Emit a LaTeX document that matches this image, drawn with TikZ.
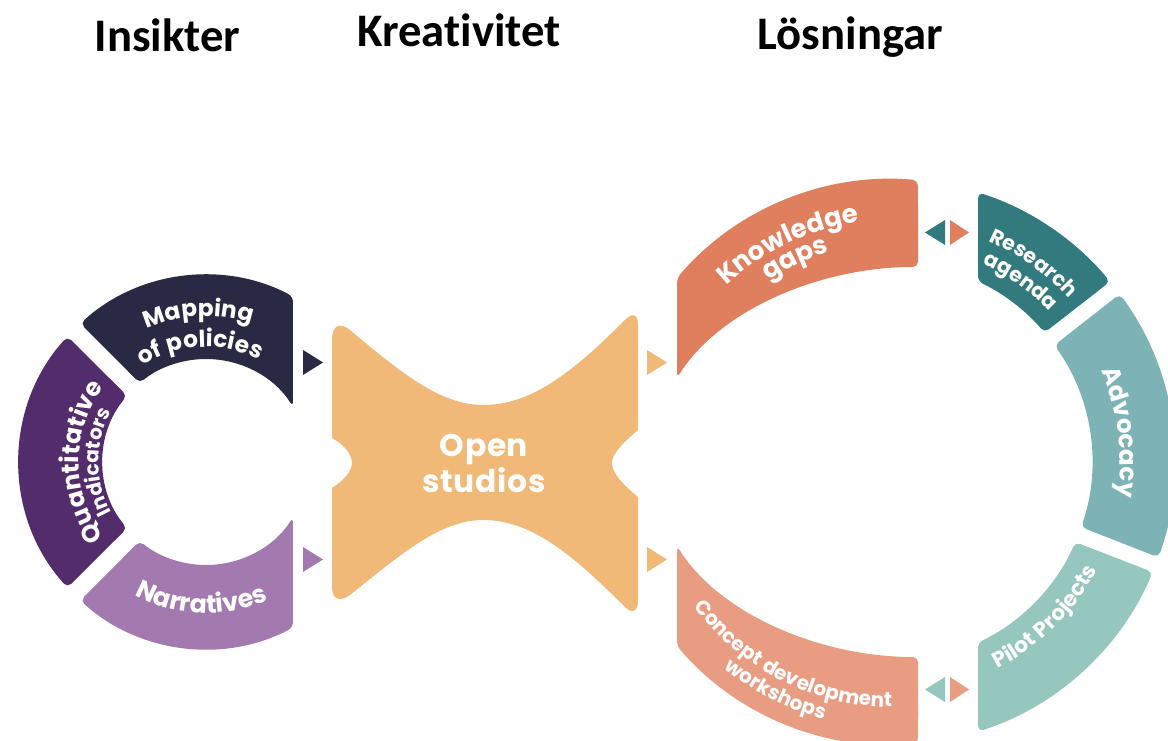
\documentclass[tikz,border=0pt]{standalone}
\usepackage{fontspec}
\setmainfont{Carlito}[Ligatures=NoCommon]
\newfontfamily\lab{Poppins}[LetterSpace=4]
\newfontfamily\labos{Poppins}[LetterSpace=2]
\usetikzlibrary{decorations.text}
\definecolor{navy}{HTML}{2A2944}
\definecolor{dpurple}{HTML}{532C6C}
\definecolor{lpurple}{HTML}{A37AAF}
\definecolor{osorange}{HTML}{F0B977}
\definecolor{kgcol}{HTML}{E07F5D}
\definecolor{cdcol}{HTML}{E89C82}
\definecolor{racol}{HTML}{337A7F}
\definecolor{advcol}{HTML}{7DB3B5}
\definecolor{pilcol}{HTML}{96C7BE}
\newcommand\fMap{\lab\bfseries\fontsize{17.5}{17.5}\selectfont}
\newcommand\fQua{\lab\bfseries\fontsize{18.5}{18.5}\selectfont}
\newcommand\fInd{\lab\bfseries\fontsize{15}{15}\selectfont}
\newcommand\fNar{\lab\bfseries\fontsize{19}{19}\selectfont}
\newcommand\fKg{\lab\bfseries\fontsize{19.5}{19.5}\selectfont}
\newcommand\fRa{\lab\bfseries\fontsize{15.5}{15.5}\selectfont}
\newcommand\fAdv{\lab\bfseries\fontsize{18.5}{18.5}\selectfont}
\newcommand\fPil{\lab\bfseries\fontsize{16}{16}\selectfont}
\newcommand\fCd{\lab\bfseries\fontsize{15}{15}\selectfont}
\begin{document}
\begin{tikzpicture}[x=0.75pt,y=0.75pt,
  seg/.style={rounded corners=4pt},
  ctext/.style={decorate,decoration={text along path,text={#1},text align=center,text color=white}},
  title/.style={font=\bfseries\fontsize{35}{35}\selectfont,anchor=base,inner sep=0pt}]
\clip (0,0) rectangle (1168,741);
\fill[white] (0,0) rectangle (1168,741);
\coordinate (L) at (206,279);
\coordinate (R) at (892,279);

% titles
\node[title] (t1) at (167.5,689) {Insikter};
\node[title] (t2) at (459,694) {Kreativitet};
\node[title] (t3) at (850,691) {Lösningar};

% left ring
\fill[navy,seg] ([shift={(L)}]132.2:187) arc[start angle=132.2,end angle=62.28,radius=187]
  -- ([shift={(L)}]32.4:103) arc[start angle=32.4,end angle=130,radius=103] -- cycle;
\fill[dpurple,seg] ([shift={(L)}]137.8:187) arc[start angle=137.8,end angle=222.2,radius=187]
  -- ([shift={(L)}]220:103) arc[start angle=220,end angle=140,radius=103] -- cycle;
\fill[lpurple,seg] ([shift={(L)}]227.8:187) arc[start angle=227.8,end angle=297.72,radius=187]
  -- ([shift={(L)}]327.6:103) arc[start angle=327.6,end angle=230,radius=103] -- cycle;

% open studios
\fill[osorange] (332,401) .. controls (332,416) and (340,419) .. (350,411)
  .. controls (400,369) and (440,336) .. (483,336)
  .. controls (530,336) and (570,366) .. (625,421)
  .. controls (632,428) and (638,428) .. (638,416)
  -- (638,311)
  .. controls (620,296) and (612,286) .. (612,278)
  .. controls (612,269) and (620,259) .. (638,244)
  -- (638,141)
  .. controls (638,129) and (632,127) .. (625,134)
  .. controls (570,189) and (530,221) .. (483,221)
  .. controls (440,221) and (400,186) .. (350,146)
  .. controls (340,139) and (332,141) .. (332,154)
  -- (332,253)
  .. controls (345,261) and (352,271) .. (352,278)
  .. controls (352,286) and (345,296) .. (332,303)
  -- cycle;
\node[align=center,text=white,font=\labos\bfseries\fontsize{23.5}{27}\selectfont] (os) at (484,278) {Open\\studios};

% right ring
\fill[kgcol,seg] ([shift={(R)}]139.44:283) arc[start angle=139.44,end angle=84.73,radius=283]
  -- (918,474) .. controls (820,474) and (720,431) .. (677,363) -- cycle;
\fill[cdcol,seg] ([shift={(R)}]220.56:283) arc[start angle=220.56,end angle=275.27,radius=283]
  -- (918,84) .. controls (820,84) and (720,127) .. (677,195) -- cycle;
\fill[racol,seg] ([shift={(R)}]72.3:283) arc[start angle=72.3,end angle=39.6,radius=283]
  -- ([shift={(R)}]40.3:200) arc[start angle=40.3,end angle=64.53,radius=200] -- cycle;
\fill[advcol,seg] ([shift={(R)}]36.4:283) arc[start angle=36.4,end angle=-19.7,radius=283]
  -- ([shift={(R)}]-19:200) arc[start angle=-19,end angle=35.7,radius=200] -- cycle;
\fill[pilcol,seg] ([shift={(R)}]-22.9:283) arc[start angle=-22.9,end angle=-72.3,radius=283]
  -- ([shift={(R)}]-64.53:200) arc[start angle=-64.53,end angle=-23.6,radius=200] -- cycle;

% triangles
\fill[navy] (303,391) -- (303,366) -- (323,378.5) -- cycle;
\fill[lpurple] (303,194) -- (303,169) -- (323,181.5) -- cycle;
\fill[osorange] (647,391) -- (647,366) -- (667,378.5) -- cycle;
\fill[osorange] (647,194) -- (647,169) -- (667,181.5) -- cycle;
\fill[racol] (945,521) -- (945,496) -- (925,508.5) -- cycle;
\fill[kgcol] (950,521) -- (950,496) -- (969,508.5) -- cycle;
\fill[pilcol] (945,64) -- (945,39) -- (925,51.5) -- cycle;
\fill[cdcol] (950,64) -- (950,39) -- (969,51.5) -- cycle;

% curved labels
\path[ctext={|\fMap|Mapping}] ([shift={(L)}]138:146) arc[start angle=138,end angle=48,radius=146];
\path[ctext={|\fMap|of policies}] ([shift={(L)}]138:115) arc[start angle=138,end angle=48,radius=115];
\path[ctext={|\fQua|Quantitative}] ([shift={(L)}]225:127) arc[start angle=225,end angle=135,radius=127];
\path[ctext={|\fInd|Indicators}] ([shift={(L)}]225:107) arc[start angle=225,end angle=135,radius=107];
\path[ctext={|\fNar|Narratives}] ([shift={(L)}]223:151) arc[start angle=223,end angle=313,radius=151];
\path[ctext={|\fKg|Knowledge}] ([shift={(R)}]150:242) arc[start angle=150,end angle=81,radius=242];
\path[ctext={|\fKg|gaps}] ([shift={(R)}]150:219) arc[start angle=150,end angle=81,radius=219];
\path[ctext={|\fRa|Research}] ([shift={(R)}]80:241) arc[start angle=80,end angle=29,radius=241];
\path[ctext={|\fRa|agenda}] ([shift={(R)}]80:218) arc[start angle=80,end angle=29,radius=218];
\path[ctext={|\fAdv|Advocacy}] ([shift={(R)}]47.4:228) arc[start angle=47.4,end angle=-32.6,radius=228];
\path[ctext={|\fPil|Pilot Projects}] ([shift={(R)}]-85.4:232) arc[start angle=-85.4,end angle=-5.4,radius=232];
\path[ctext={|\fCd|Concept development}] ([shift={(R)}]203:245) arc[start angle=203,end angle=283,radius=245];
\path[ctext={|\fCd|workshops}] ([shift={(R)}]203:266) arc[start angle=203,end angle=283,radius=266];
\end{tikzpicture}
\end{document}
